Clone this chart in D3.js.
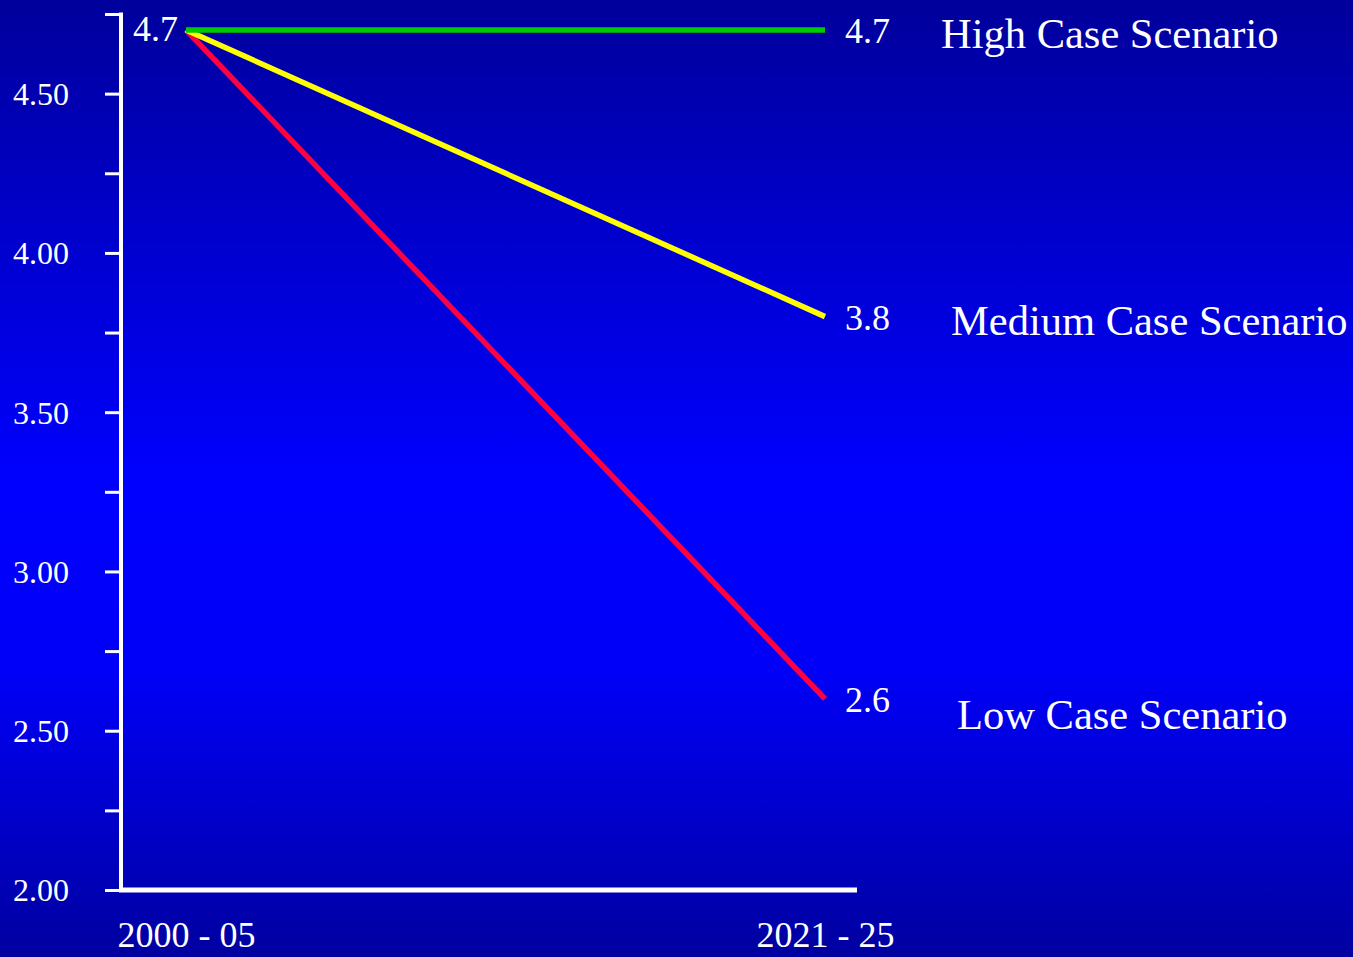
<!DOCTYPE html>
<html>
<head>
<meta charset="utf-8">
<script src="https://cdn.jsdelivr.net/npm/d3@7"></script>
<style>
  html, body { margin: 0; padding: 0; overflow: hidden; }
  svg { display: block; }
  text { font-family: "Liberation Serif", "Times New Roman", serif; fill: #ffffff; }
</style>
</head>
<body>
<svg id="chart" width="1353" height="957"></svg>
<script>
// ---- data ----
const categories = ["2000 - 05", "2021 - 25"];
const scenarioNames = ["High Case Scenario", "Medium Case Scenario", "Low Case Scenario"];
const highValues = [4.7, 4.7];
const mediumValues = [4.7, 3.8];
const lowValues = [4.7, 2.6];
const yTickValues = [2.0, 2.25, 2.5, 2.75, 3.0, 3.25, 3.5, 3.75, 4.0, 4.25, 4.5, 4.75];
const yLabelValues = [2.0, 2.5, 3.0, 3.5, 4.0, 4.5];

// ---- styles / layout (not data) ----
const colors = { high: "#00cc00", medium: "#ffff00", low: "#ff0040" };
const nameOffsets = { high: { dx: 116, dy: 18 }, medium: { dx: 126, dy: 18 }, low: { dx: 132, dy: 30 } };

const W = 1353, H = 957;
const svg = d3.select("#chart");

// background gradient
const defs = svg.append("defs");
const grad = defs.append("linearGradient").attr("id", "bg").attr("x1", 0).attr("y1", 0).attr("x2", 0).attr("y2", 1);
grad.append("stop").attr("offset", "0%").attr("stop-color", "#00009c");
grad.append("stop").attr("offset", "50%").attr("stop-color", "#0000ff");
grad.append("stop").attr("offset", "70%").attr("stop-color", "#0000f8");
grad.append("stop").attr("offset", "100%").attr("stop-color", "#0000a0");
svg.append("rect").attr("width", W).attr("height", H).attr("fill", "url(#bg)");

// scales
const x = d3.scalePoint().domain(categories).range([186, 825]).padding(0);
const y = d3.scaleLinear().domain([2, 4.75]).range([890, 14]);
const axisLeftX = 121, axisRightX = 857;

// y axis
const yAxis = d3.axisLeft(y).tickValues(yTickValues).tickSize(16).tickPadding(36)
  .tickFormat(d => yLabelValues.some(v => Math.abs(v - d) < 1e-9) ? d3.format(".2f")(d) : "");
const gy = svg.append("g").attr("transform", `translate(${axisLeftX},0)`).call(yAxis);
gy.select(".domain").remove();
gy.selectAll(".tick line").attr("stroke", "#ffffff").attr("stroke-width", 3);
gy.selectAll(".tick text").attr("font-size", 32).attr("fill", "#ffffff")
  .attr("font-family", "Liberation Serif, serif").attr("dy", "0.34em");
gy.append("line").attr("x1", 0).attr("x2", 0).attr("y1", y(4.75) - 1.5).attr("y2", y(2) + 2)
  .attr("stroke", "#ffffff").attr("stroke-width", 4);

// x axis line
svg.append("line").attr("x1", axisLeftX - 2).attr("x2", axisRightX).attr("y1", y(2)).attr("y2", y(2))
  .attr("stroke", "#ffffff").attr("stroke-width", 5);

// x labels
const xAxis = d3.axisBottom(x).tickSize(0).tickPadding(0);
const gx = svg.append("g").attr("transform", `translate(0,${y(2)})`).call(xAxis);
gx.select(".domain").remove();
gx.selectAll(".tick text").attr("font-size", 36).attr("fill", "#ffffff")
  .attr("font-family", "Liberation Serif, serif").attr("y", 57).attr("dy", 0);

// series
const series = [
  { key: "low", name: scenarioNames[2], values: lowValues },
  { key: "medium", name: scenarioNames[1], values: mediumValues },
  { key: "high", name: scenarioNames[0], values: highValues }
];
const line = d3.line().x((d, i) => x(categories[i])).y(d => y(d));
svg.selectAll("path.series").data(series).join("path")
  .attr("class", "series")
  .attr("d", s => line(s.values))
  .attr("fill", "none")
  .attr("stroke", s => colors[s.key])
  .attr("stroke-width", 5.5);

// start label
svg.append("text").attr("x", x(categories[0]) - 8).attr("y", y(highValues[0]) + 11)
  .attr("text-anchor", "end").attr("font-size", 36).text(highValues[0].toFixed(1));

// end labels
const lastX = x(categories[categories.length - 1]);
series.forEach(s => {
  const v = s.values[s.values.length - 1];
  svg.append("text").attr("x", lastX + 20).attr("y", y(v) + 13)
    .attr("font-size", 36).text(v.toFixed(1));
  svg.append("text").attr("x", lastX + nameOffsets[s.key].dx).attr("y", y(v) + nameOffsets[s.key].dy)
    .attr("font-size", 42.5).text(s.name);
});
</script>
</body>
</html>
